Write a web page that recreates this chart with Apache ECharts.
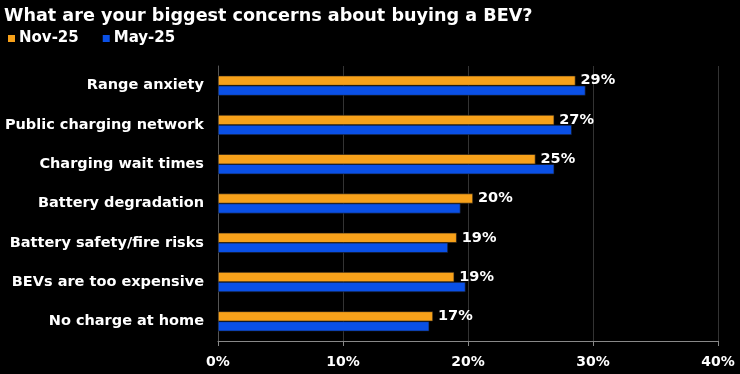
<!DOCTYPE html>
<html>
<head>
<meta charset="utf-8">
<script src="https://cdn.jsdelivr.net/npm/echarts@6/dist/echarts.min.js"></script>
<style>
html,body{margin:0;padding:0;background:#000;}
#chart{width:740px;height:374px;}
</style>
</head>
<body>
<div id="chart"></div>
<script>
const categories = ["Range anxiety","Public charging network","Charging wait times","Battery degradation","Battery safety/fire risks","BEVs are too expensive","No charge at home"];
const nov25 = [28.6, 26.9, 25.4, 20.4, 19.1, 18.9, 17.2];
const may25 = [29.4, 28.3, 26.9, 19.4, 18.4, 19.8, 16.9];
const xTicks = [0, 10, 20, 30, 40];

const FONT = "'DejaVu Sans', Verdana, sans-serif";
const chart = echarts.init(document.getElementById('chart'));
chart.setOption({
  backgroundColor: '#000000',
  animation: false,
  title: {
    text: 'What are your biggest concerns about buying a BEV?',
    left: 4, top: 6, padding: [0, 0, 0, 0],
    textStyle: {color: '#ffffff', fontFamily: FONT, fontWeight: 'bold', fontSize: 17.6, lineHeight: 20}
  },
  legend: {
    left: 8, top: 31, padding: 0,
    icon: 'rect', itemWidth: 7, itemHeight: 7, itemGap: 24,
    itemStyle: {borderWidth: 0},
    textStyle: {color: '#ffffff', fontFamily: FONT, fontWeight: 'bold', fontSize: 15, padding: [0,0,0,-1]},
    data: ['Nov-25', 'May-25']
  },
  grid: {left: 218, right: 22, top: 66, bottom: 33, containLabel: false},
  xAxis: {
    type: 'value', min: 0, max: 40, interval: 10,
    axisLine: {show: true, lineStyle: {color: '#888888'}},
    axisTick: {show: true, length: 5, lineStyle: {color: '#888888'}},
    splitLine: {show: true, lineStyle: {color: '#333333'}},
    axisLabel: {
      color: '#ffffff', fontFamily: FONT, fontWeight: 'bold', fontSize: 14, margin: 14,
      formatter: v => xTicks.includes(v) ? v + '%' : ''
    }
  },
  yAxis: {
    type: 'category', data: categories, inverse: true,
    axisLine: {show: true, lineStyle: {color: '#555555'}},
    axisTick: {show: false},
    axisLabel: {color: '#ffffff', fontFamily: FONT, fontWeight: 'bold', fontSize: 14.5, margin: 14}
  },
  series: [
    {
      name: 'Nov-25', type: 'bar', data: nov25, barWidth: 10, barGap: '0%',
      itemStyle: {color: '#F7A11A', borderColor: '#1a1a1a', borderWidth: 0.6},
      label: {
        show: true, position: 'right', distance: 5,
        color: '#ffffff', fontFamily: FONT, fontWeight: 'bold', fontSize: 14.5,
        formatter: p => Math.round(p.value) + '%'
      }
    },
    {
      name: 'May-25', type: 'bar', data: may25, barWidth: 10,
      itemStyle: {color: '#0A50E6', borderColor: '#1a1a1a', borderWidth: 0.6}
    }
  ]
});
</script>
</body>
</html>
